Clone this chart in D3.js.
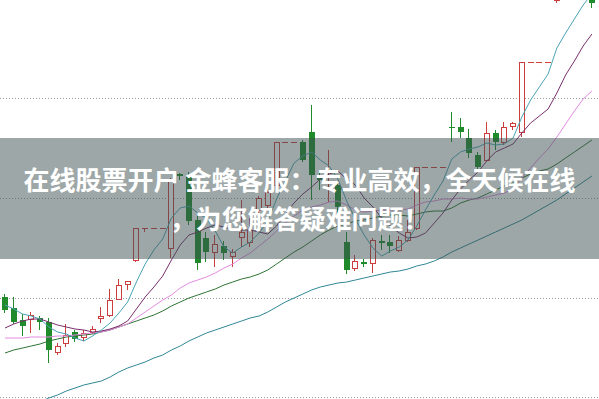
<!DOCTYPE html>
<html><head><meta charset="utf-8">
<script src="https://cdn.jsdelivr.net/npm/d3@7"></script>
<style>html,body{margin:0;padding:0;background:#fff;overflow:hidden}svg{display:block}</style>
</head><body>
<svg id="c" width="599" height="399"></svg>
<script>
// ---- data (daily candles, prices) ----
const opens = [11.01,10.90,10.78,10.79,10.80,10.76,10.46,10.55,10.66,10.61,
  10.66,10.80,10.83,10.99,11.14,11.38,11.70,11.70,11.70,11.50,
  12.24,12.21,11.78,11.60,11.46,11.52,11.42,11.61,11.56,11.88,
  11.93,12.13,12.56,12.56,12.56,12.66,12.20,12.22,12.13,11.56,
  11.30,11.36,11.35,11.57,11.56,11.48,11.58,11.70,12.31,12.31,
  12.31,12.71,12.71,12.60,12.43,12.38,12.65,12.56,12.72,12.66,
  13.36,13.36,13.36,13.98,14.04,14.12,14.08,14.04];
const highs = [11.04,11.01,10.84,10.86,10.82,10.80,10.55,10.74,10.68,10.68,
  10.72,10.91,11.09,11.19,11.17,11.70,11.70,11.70,11.70,12.20,
  12.25,12.26,11.83,11.66,11.63,11.57,11.49,11.98,11.80,12.02,
  12.10,12.56,12.56,12.56,12.58,12.93,12.28,12.48,12.16,11.66,
  11.43,11.39,11.60,11.63,11.63,11.62,11.78,12.31,12.31,12.31,
  12.31,12.86,12.80,12.69,12.46,12.76,12.68,12.76,12.76,13.36,
  13.36,13.36,13.36,14.13,14.16,14.16,14.12,14.08];
const lows = [10.85,10.74,10.62,10.65,10.68,10.35,10.43,10.51,10.56,10.57,
  10.64,10.75,10.81,10.98,11.08,11.36,11.66,11.70,11.70,11.40,
  12.18,11.73,11.28,11.36,11.31,11.38,11.31,11.51,11.51,11.76,
  11.88,12.08,12.56,12.56,12.36,11.98,12.08,11.96,11.85,11.24,
  11.27,11.31,11.25,11.48,11.45,11.46,11.56,11.68,12.31,12.31,
  12.31,12.56,12.60,12.40,12.26,12.36,12.48,12.53,12.68,12.61,
  13.36,13.36,13.36,13.95,14.02,14.00,13.99,13.90];
const closes = [10.88,10.76,10.72,10.83,10.76,10.48,10.52,10.63,10.59,10.65,
  10.69,10.82,10.98,11.13,11.17,11.70,11.70,11.70,11.70,12.18,
  12.22,11.77,11.35,11.46,11.54,11.45,11.46,11.66,11.68,12.00,
  12.06,12.56,12.56,12.56,12.38,12.23,12.18,12.23,11.91,11.28,
  11.37,11.34,11.58,11.55,11.52,11.58,11.66,12.31,12.31,12.31,
  12.31,12.70,12.66,12.45,12.31,12.65,12.56,12.71,12.75,13.36,
  13.36,13.36,13.36,14.08,14.10,14.06,14.03,13.95];

const ma5 = [10.93,10.89,10.84,10.82,10.79,10.71,10.66,10.64,10.60,10.57,
  10.62,10.68,10.75,10.85,10.96,11.16,11.34,11.48,11.59,11.80,
  11.90,11.92,11.85,11.80,11.67,11.51,11.45,11.51,11.56,11.65,
  11.77,11.99,12.17,12.35,12.42,12.46,12.38,12.32,12.19,11.97,
  11.79,11.63,11.50,11.42,11.47,11.51,11.58,11.72,11.88,12.03,
  12.17,12.39,12.46,12.49,12.51,12.55,12.53,12.54,12.60,12.81,
  12.98,13.11,13.24,13.50,13.65,13.79,13.93,14.04];
const ma10 = [10.70,10.74,10.77,10.79,10.79,10.76,10.73,10.71,10.69,10.68,
  10.66,10.67,10.69,10.72,10.77,10.89,11.01,11.11,11.22,11.38,
  11.53,11.63,11.66,11.70,11.73,11.71,11.68,11.68,11.68,11.66,
  11.64,11.72,11.84,11.95,12.04,12.11,12.19,12.24,12.27,12.19,
  12.13,12.00,11.91,11.80,11.72,11.65,11.60,11.61,11.65,11.75,
  11.85,11.98,12.09,12.18,12.26,12.37,12.46,12.50,12.54,12.65,
  12.75,12.82,12.89,13.05,13.23,13.37,13.52,13.64];
const ma20 = [10.60,10.60,10.60,10.61,10.61,10.61,10.62,10.62,10.63,10.64,
  10.65,10.66,10.68,10.71,10.74,10.80,10.86,10.92,10.98,11.03,
  11.10,11.15,11.18,11.21,11.25,11.30,11.34,11.40,11.45,11.52,
  11.59,11.67,11.75,11.82,11.88,11.91,11.93,11.96,11.97,11.93,
  11.88,11.86,11.87,11.88,11.88,11.88,11.89,11.93,11.96,11.97,
  11.99,11.99,12.00,11.99,11.99,12.01,12.03,12.05,12.09,12.20,
  12.30,12.40,12.49,12.61,12.74,12.87,12.99,13.07];
const ma30 = [10.45,10.48,10.50,10.52,10.54,10.57,10.59,10.61,10.62,10.63,
  10.64,10.66,10.68,10.71,10.74,10.77,10.80,10.83,10.87,10.92,
  10.96,11.00,11.03,11.06,11.09,11.13,11.16,11.19,11.21,11.24,
  11.28,11.34,11.40,11.46,11.51,11.57,11.63,11.68,11.72,11.74,
  11.77,11.78,11.80,11.82,11.83,11.83,11.82,11.84,11.86,11.87,
  11.87,11.90,11.95,11.98,12.00,12.04,12.08,12.12,12.15,12.20,
  12.24,12.27,12.29,12.34,12.40,12.46,12.52,12.58];
const ma60 = [9.83,9.86,9.89,9.92,9.96,10.00,10.03,10.07,10.10,10.13,
  10.15,10.17,10.21,10.26,10.30,10.33,10.36,10.40,10.43,10.48,
  10.52,10.57,10.61,10.65,10.68,10.71,10.74,10.77,10.80,10.82,
  10.86,10.91,10.96,11.00,11.04,11.08,11.11,11.13,11.15,11.16,
  11.18,11.20,11.22,11.24,11.26,11.27,11.29,11.32,11.34,11.37,
  11.41,11.46,11.50,11.54,11.58,11.62,11.66,11.70,11.74,11.78,
  11.83,11.88,11.93,11.98,12.04,12.10,12.16,12.22];

const gridLevels = [13, 12, 11, 10];
const bannerLines = ["在线股票开户 金蜂客服：专业高效，全天候在线", "，为您解答疑难问题！"];

const maSeries = [
  {name: "MA60", values: ma60, color: "#2f8796"},
  {name: "MA30", values: ma30, color: "#2e7432"},
  {name: "MA20", values: ma20, color: "#e38be0"},
  {name: "MA10", values: ma10, color: "#7a2f6c"},
  {name: "MA5",  values: ma5,  color: "#4aa3b4"}
];

// ---- drawing ----
const W = 599, H = 399;
const svg = d3.select("#c");
const n = closes.length;
const x = d3.scaleLinear().domain([0, n - 1]).range([5, 5 + 8.76 * (n - 1)]);
const y = d3.scaleLinear().domain([13.98, 9.98]).range([0, 400]);
const RED = "#cc3d3d", GREEN = "#1f8b2b";

svg.append("rect").attr("width", W).attr("height", H).attr("fill", "#fff");

svg.append("g").selectAll("line").data(gridLevels).join("line")
  .attr("x1", 0).attr("x2", W)
  .attr("y1", d => Math.min(397, Math.round(y(d))) + 0.5)
  .attr("y2", d => Math.min(397, Math.round(y(d))) + 0.5)
  .attr("stroke", "#9c9c9c").attr("stroke-width", 1).attr("stroke-dasharray", "1,2");

const candles = d3.range(n).map(i => ({i, o: opens[i], h: highs[i], l: lows[i], c: closes[i]}));
const cg = svg.append("g").attr("shape-rendering", "crispEdges");
candles.forEach(d => {
  const left = Math.round(x(d.i) - 3);
  const up = d.c >= d.o;
  const col = up ? RED : GREEN;
  const g = cg.append("g");
  if (d.h !== d.l) {
    g.append("line").attr("x1", left + 2.5).attr("x2", left + 2.5)
      .attr("y1", Math.round(y(d.h))).attr("y2", Math.round(y(d.l)))
      .attr("stroke", col).attr("stroke-width", 1);
  }
  const yo = Math.round(y(d.o)), yc = Math.round(y(d.c));
  if (yo === yc) {
    g.append("line").attr("x1", left).attr("x2", left + 6)
      .attr("y1", yo + 0.5).attr("y2", yo + 0.5)
      .attr("stroke", col).attr("stroke-width", 1);
  } else if (up) {
    g.append("rect").attr("x", left + 0.5).attr("y", yc + 0.5)
      .attr("width", 5).attr("height", yo - yc)
      .attr("fill", "#fff").attr("stroke", col).attr("stroke-width", 1);
  } else {
    g.append("rect").attr("x", left).attr("y", yo)
      .attr("width", 6).attr("height", Math.max(1, yc - yo))
      .attr("fill", col);
  }
});

const line = d3.line().x((d, i) => x(i)).y(d => y(d));
svg.append("g").selectAll("path").data(maSeries).join("path")
  .attr("d", s => line(s.values))
  .attr("fill", "none").attr("stroke", s => s.color).attr("stroke-width", 1);

// banner overlay
svg.append("rect").attr("x", 0).attr("y", 138).attr("width", W).attr("height", 121)
  .attr("fill", "rgba(60,80,79,0.5)");
svg.append("g").selectAll("text").data(bannerLines).join("text")
  .attr("x", 299.5).attr("y", (d, i) => 190 + i * 39)
  .attr("text-anchor", "middle")
  .attr("font-family", "'Noto Sans CJK SC', 'Noto Sans', sans-serif")
  .attr("font-weight", "bold").attr("font-size", 26)
  .attr("fill", "#fff")
  .text(d => d);
</script>
</body></html>
